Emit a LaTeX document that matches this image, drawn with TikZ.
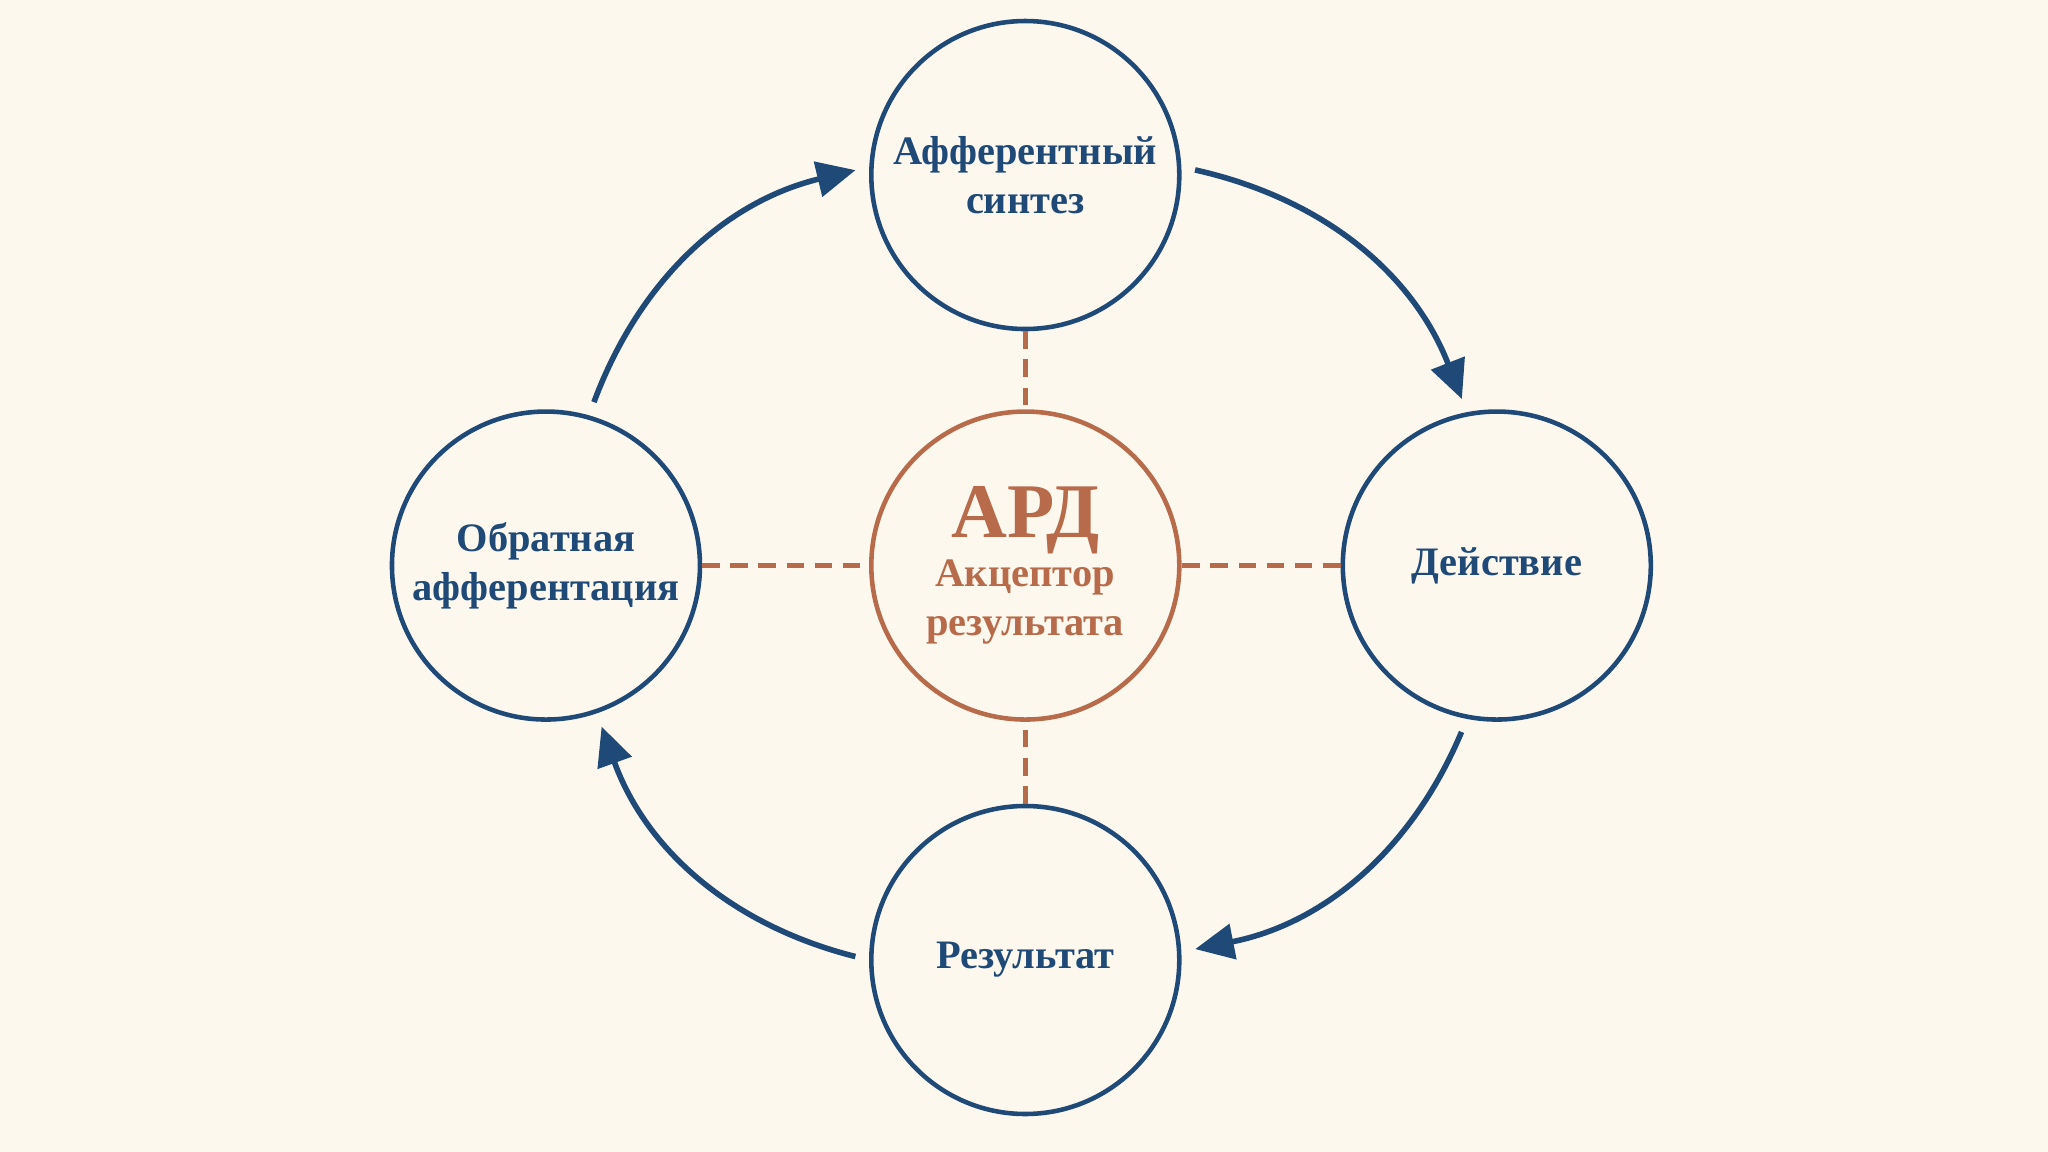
\documentclass[tikz,border=0pt]{standalone}
\usepackage{fontspec}
\setmainfont{Liberation Serif}
\usetikzlibrary{arrows.meta}
\definecolor{bgc}{HTML}{FDF8EE}
\definecolor{blu}{HTML}{1F4A78}
\definecolor{ora}{HTML}{B86B4B}
\tikzset{
  stage/.style={circle,draw=blu,line width=1.3pt,minimum size=3.08cm,inner sep=0pt,
    text=blu,font=\bfseries\fontsize{11.5}{14}\selectfont,align=center},
  core/.style={stage,draw=ora,text=ora},
  flow/.style={draw=blu,line width=1.6pt,-{Triangle[length=11pt,width=10pt]},shorten <=4pt,shorten >=4pt},
  link/.style={draw=ora,line width=1.3pt,dash pattern=on 5pt off 3pt}
}
\begin{document}
\begin{tikzpicture}[x=0.013061cm,y=-0.013061cm]
\fill[bgc] (0,0) rectangle (1568,882);
\useasboundingbox (0,0) rectangle (1568,882);

\node[stage] (syn) at (785,134) {Афферентный\\синтез};
\node[stage] (act) at (1146,433) {Действие};
\node[stage] (res) at (785,735) {Результат};
\node[stage] (fb) at (418,433) {Обратная\\афферентация};
\node[core] (ard) at (785,433) {{\fontsize{22}{22}\selectfont АРД}\\Акцептор\\результата};

\draw[link] (syn) -- (ard);
\draw[link] (act) -- (ard);
\draw[link] (res) -- (ard);
\draw[link] (fb) -- (ard);

\draw[flow] (syn.3) to[bend left=28] (act.101);
\draw[flow] (act.259) to[bend left=28] (res.3);
\draw[flow] (res.180) to[bend left=28] (fb.289);
\draw[flow] (fb.74) to[bend left=28] (syn.177);
\end{tikzpicture}
\end{document}
